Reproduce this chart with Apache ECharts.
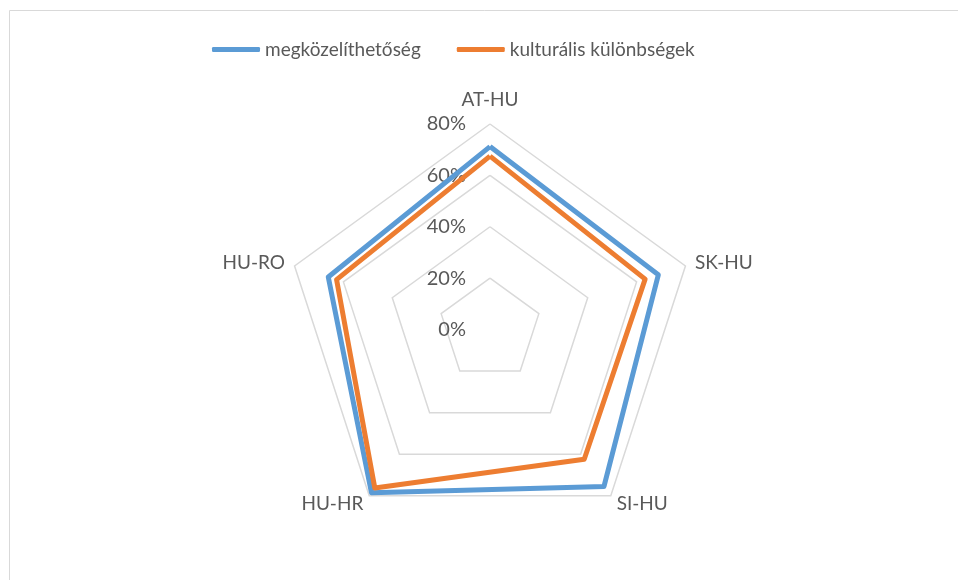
<!DOCTYPE html>
<html>
<head>
<meta charset="utf-8">
<title>radar</title>
<script src="https://cdn.jsdelivr.net/npm/echarts@6/dist/echarts.min.js"></script>
<style>
  html, body { margin: 0; padding: 0; background: #fff; }
  #chart { width: 958px; height: 580px; }
</style>
</head>
<body>
<div id="chart"></div>
<script>
// data (percent), clockwise from the top
var regions = ['AT-HU', 'SK-HU', 'SI-HU', 'HU-HR', 'HU-RO'];
var accessibility = [71.2, 68.9, 75.5, 78.5, 66.2];   // megközelíthetőség
var cultural = [67.5, 63.5, 62.4, 76.3, 62.8];        // kulturális különbségek
var seriesNames = ['megközelíthetőség', 'kulturális különbségek'];
var colors = ['#5B9BD5', '#ED7D31'];

// echarts lays indicators out counter-clockwise, so walk the lists backwards
var order = [0, 4, 3, 2, 1];
function pick(arr) { return order.map(function (i) { return arr[i]; }); }

var font = 'Lato, "Noto Sans", sans-serif';
var chart = echarts.init(document.getElementById('chart'));

var indicators = pick(regions).map(function (r, i) {
  var ind = { name: r, min: 0, max: 80 };
  if (i === 0) ind.axisLabel = { show: true };
  return ind;
});

chart.setOption({
  animation: false,
  color: colors,
  textStyle: { fontFamily: font },
  graphic: [{
    type: 'rect',
    shape: { x: 9.5, y: 10.5, width: 1000, height: 1000 },
    style: { fill: null, stroke: '#d9d9d9', lineWidth: 1 },
    silent: true
  }],
  legend: {
    top: 35,
    left: 207,
    itemWidth: 48,
    itemHeight: 5,
    itemGap: 36,
    icon: 'roundRect',
    textStyle: { fontSize: 19, color: '#595959', fontFamily: font },
    data: seriesNames
  },
  radar: {
    center: [490, 329.5],
    radius: 205.5,
    startAngle: 90,
    shape: 'polygon',
    splitNumber: 4,
    indicator: indicators,
    axisName: {
      color: '#595959',
      fontSize: 19,
      fontFamily: font,
      formatter: function (name) {
        return name === regions[0] ? '{top|' + name + '}' : name;
      },
      rich: {
        top: { fontSize: 19, color: '#595959', fontFamily: font, padding: [0, 0, 5, 0] }
      }
    },
    nameGap: 10,
    axisLine: { show: false },
    axisTick: { show: false },
    axisLabel: {
      show: false,
      color: '#595959',
      fontSize: 20,
      fontFamily: font,
      margin: 24,
      formatter: '{value}%'
    },
    splitLine: { lineStyle: { color: '#d9d9d9', width: 1.5 } },
    splitArea: { show: false }
  },
  series: [{
    type: 'radar',
    symbol: 'none',
    data: [
      { name: seriesNames[0], value: pick(accessibility), lineStyle: { width: 5, color: colors[0] } },
      { name: seriesNames[1], value: pick(cultural), lineStyle: { width: 5, color: colors[1] } }
    ]
  }]
});
</script>
</body>
</html>
